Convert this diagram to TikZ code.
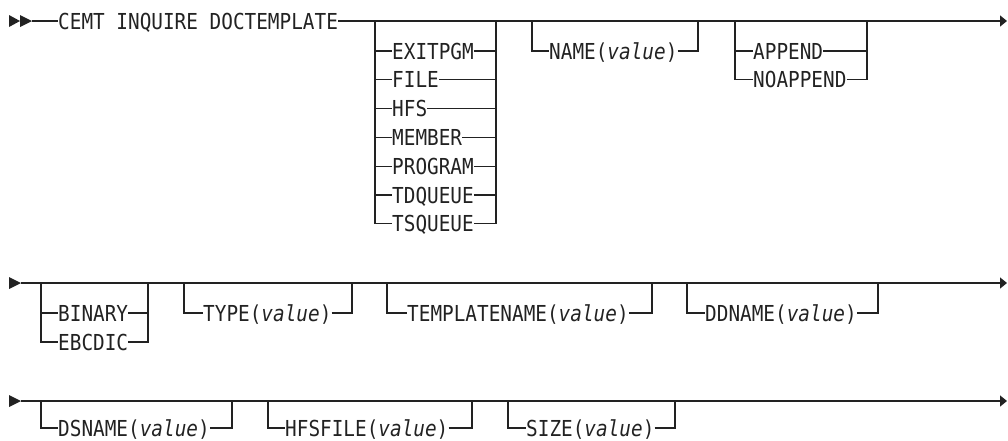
\documentclass[tikz,border=0pt]{standalone}
\usepackage{fontspec}
\newfontfamily\kwfont[FakeStretch=0.88]{DejaVu Sans Mono}
\usetikzlibrary{arrows.meta}
\definecolor{ink}{RGB}{34,34,34}

\begin{document}
\begin{tikzpicture}[
  x=1pt, y=-1pt,
  kw/.style={font=\kwfont\fontsize{22}{25}\selectfont, text=ink, inner sep=0pt,
             anchor=west, text height=16pt, text depth=0pt},
  rail/.style={line width=1.3pt, draw=ink},
  endarrow/.style={rail, -{Triangle[length=7pt, width=11pt]}},
]
  \useasboundingbox (0,0) rectangle (1008,440);

  % first line
  \coordinate (s1) at (32,21);
  \coordinate (e1) at (1007,21);
  \fill[ink] (9,15) -- (20,21) -- (9,27) -- cycle;
  \fill[ink] (20,15) -- (32,21) -- (20,27) -- cycle;
  \node[kw] (cmd) at (58,21) {CEMT INQUIRE DOCTEMPLATE};
  \draw[rail] (s1) -- (cmd.west);
  \draw[endarrow] (cmd.east) -- (e1);

  \coordinate (srcl) at (375,21);
  \coordinate (srcr) at (496,21);
  \node[kw] (exitpgm) at (392,51) {EXITPGM};
  \node[kw] (file) at (392,79.8) {FILE};
  \node[kw] (hfs) at (392,108.6) {HFS};
  \node[kw] (member) at (392,137.4) {MEMBER};
  \node[kw] (program) at (392,166.2) {PROGRAM};
  \node[kw] (tdqueue) at (392,195) {TDQUEUE};
  \node[kw] (tsqueue) at (392,223.8) {TSQUEUE};
  \draw[rail] (srcl) |- (tsqueue.west); \draw[rail] (tsqueue.east) -| (srcr);
  \draw[rail] (srcl |- exitpgm) -- (exitpgm.west); \draw[rail] (exitpgm.east) -- (srcr |- exitpgm);
  \draw[rail] (srcl |- file) -- (file.west); \draw[rail] (file.east) -- (srcr |- file);
  \draw[rail] (srcl |- hfs) -- (hfs.west); \draw[rail] (hfs.east) -- (srcr |- hfs);
  \draw[rail] (srcl |- member) -- (member.west); \draw[rail] (member.east) -- (srcr |- member);
  \draw[rail] (srcl |- program) -- (program.west); \draw[rail] (program.east) -- (srcr |- program);
  \draw[rail] (srcl |- tdqueue) -- (tdqueue.west); \draw[rail] (tdqueue.east) -- (srcr |- tdqueue);

  \coordinate (namel) at (532,21);
  \coordinate (namer) at (698,21);
  \node[kw] (name) at (549,51) {NAME(\textit{value})};
  \draw[rail] (namel) |- (name.west); \draw[rail] (name.east) -| (namer);

  \coordinate (appl) at (735,21);
  \coordinate (appr) at (867,21);
  \node[kw] (append) at (753,51) {APPEND};
  \node[kw] (noappend) at (753,79.8) {NOAPPEND};
  \draw[rail] (appl) |- (noappend.west); \draw[rail] (noappend.east) -| (appr);
  \draw[rail] (appl |- append) -- (append.west); \draw[rail] (append.east) -- (appr |- append);

  % second line
  \coordinate (s2) at (21,283);
  \coordinate (e2) at (1007,283);
  \fill[ink] (9,277) -- (21,283) -- (9,289) -- cycle;
  \draw[endarrow] (s2) -- (e2);

  \coordinate (codel) at (41,283);
  \coordinate (coder) at (148,283);
  \node[kw] (binary) at (58,313) {BINARY};
  \node[kw] (ebcdic) at (58,342) {EBCDIC};
  \draw[rail] (codel) |- (ebcdic.west); \draw[rail] (ebcdic.east) -| (coder);
  \draw[rail] (codel |- binary) -- (binary.west); \draw[rail] (binary.east) -- (coder |- binary);

  \coordinate (typel) at (184,283);
  \coordinate (typer) at (352,283);
  \node[kw] (type) at (203,313) {TYPE(\textit{value})};
  \draw[rail] (typel) |- (type.west); \draw[rail] (type.east) -| (typer);

  \coordinate (tmpl) at (387,283);
  \coordinate (tmpr) at (652,283);
  \node[kw] (tmpname) at (407,313) {TEMPLATENAME(\textit{value})};
  \draw[rail] (tmpl) |- (tmpname.west); \draw[rail] (tmpname.east) -| (tmpr);

  \coordinate (ddl) at (687,283);
  \coordinate (ddr) at (878,283);
  \node[kw] (ddname) at (705,313) {DDNAME(\textit{value})};
  \draw[rail] (ddl) |- (ddname.west); \draw[rail] (ddname.east) -| (ddr);

  % third line
  \coordinate (s3) at (21,401);
  \coordinate (e3) at (1007,401);
  \fill[ink] (9,395) -- (21,401) -- (9,407) -- cycle;
  \draw[endarrow] (s3) -- (e3);

  \coordinate (dsl) at (41,401);
  \coordinate (dsr) at (232,401);
  \node[kw] (dsname) at (58,428) {DSNAME(\textit{value})};
  \draw[rail] (dsl) |- (dsname.west); \draw[rail] (dsname.east) -| (dsr);

  \coordinate (hfsl) at (268,401);
  \coordinate (hfsr) at (472,401);
  \node[kw] (hfsfile) at (285,428) {HFSFILE(\textit{value})};
  \draw[rail] (hfsl) |- (hfsfile.west); \draw[rail] (hfsfile.east) -| (hfsr);

  \coordinate (sizel) at (508,401);
  \coordinate (sizer) at (675,401);
  \node[kw] (size) at (526,428) {SIZE(\textit{value})};
  \draw[rail] (sizel) |- (size.west); \draw[rail] (size.east) -| (sizer);
\end{tikzpicture}
\end{document}
